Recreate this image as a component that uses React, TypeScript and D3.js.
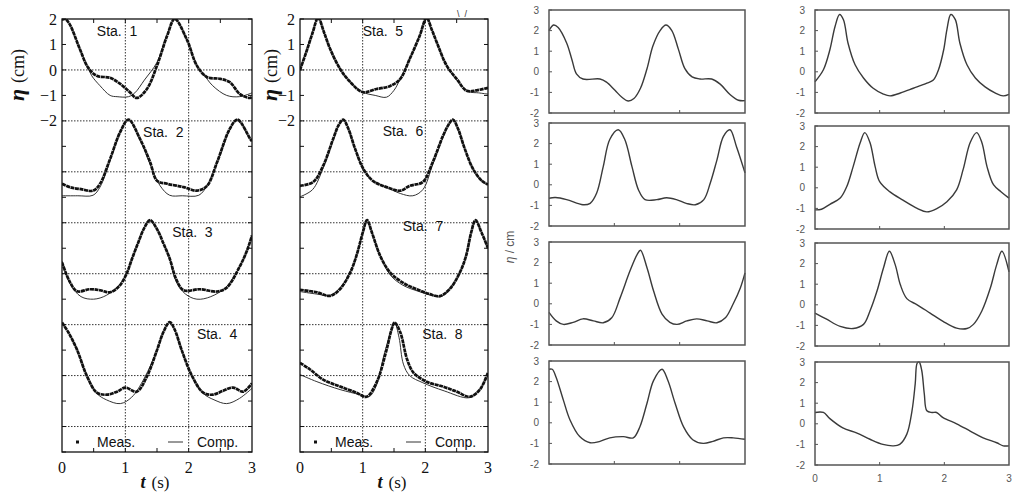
import React, { useRef, useEffect } from 'react';
import * as d3 from 'd3';

type Pt = [number, number];

// ---- left figure: measured (dots) vs computed (line), t in s, eta in cm relative to station baseline
const sta1Meas: Pt[] = [[0, 1.97], [0.05, 2.0], [0.12, 1.8], [0.28, 0.83], [0.41, 0.1], [0.55, -0.23], [0.76, -0.31], [0.92, -0.55], [1.07, -0.87], [1.18, -1.1], [1.34, -0.75], [1.5, 0.17], [1.66, 1.34], [1.78, 2.0], [1.97, 1.2], [2.13, 0.17], [2.29, -0.28], [2.5, -0.35], [2.65, -0.48], [2.81, -0.95], [2.97, -1.1], [3, -1.05]];
const sta1Comp: Pt[] = [[0, 1.95], [0.05, 2.0], [0.12, 1.8], [0.28, 0.83], [0.4, 0.15], [0.47, -0.23], [0.6, -0.62], [0.76, -1.0], [0.87, -1.05], [1.05, -1.05], [1.15, -0.9], [1.3, -0.4], [1.5, 0.3], [1.66, 1.4], [1.78, 2.0], [1.97, 1.2], [2.13, 0.17], [2.23, -0.15], [2.38, -0.62], [2.6, -1.0], [2.8, -1.05], [3, -0.9]];
const sta2Meas: Pt[] = [[0, -0.47], [0.15, -0.62], [0.3, -0.68], [0.49, -0.74], [0.6, -0.47], [0.76, 0.51], [0.92, 1.57], [1.05, 2.05], [1.23, 1.3], [1.39, 0.39], [1.5, -0.35], [1.66, -0.47], [1.92, -0.6], [2.13, -0.74], [2.29, -0.55], [2.45, 0.39], [2.65, 1.69], [2.77, 2.05], [2.97, 1.3], [3, 1.2]];
const sta2Comp: Pt[] = [[0, -0.94], [0.25, -0.94], [0.49, -0.92], [0.6, -0.6], [0.76, 0.45], [0.92, 1.55], [1.05, 2.05], [1.23, 1.3], [1.39, 0.3], [1.55, -0.55], [1.7, -0.92], [1.9, -0.94], [2.16, -0.92], [2.3, -0.5], [2.45, 0.35], [2.65, 1.65], [2.77, 2.05], [2.97, 1.3], [3, 1.2]];
const sta3Meas: Pt[] = [[0, 0.44], [0.13, -0.35], [0.24, -0.69], [0.44, -0.61], [0.6, -0.65], [0.76, -0.73], [0.9, -0.5], [1.02, 0], [1.1, 0.55], [1.2, 1.2], [1.3, 1.8], [1.39, 2.1], [1.5, 1.75], [1.6, 1.2], [1.7, 0.6], [1.8, -0.2], [1.92, -0.65], [2.18, -0.61], [2.45, -0.7], [2.6, -0.55], [2.81, 0.3], [2.92, 0.9], [3, 1.5]];
const sta3Comp: Pt[] = [[0, 0.5], [0.13, -0.4], [0.3, -0.9], [0.5, -1.0], [0.7, -0.85], [0.9, -0.45], [1.02, 0], [1.1, 0.55], [1.2, 1.2], [1.3, 1.8], [1.39, 2.1], [1.5, 1.75], [1.6, 1.2], [1.7, 0.6], [1.8, -0.3], [1.95, -0.8], [2.13, -1.0], [2.35, -0.9], [2.6, -0.5], [2.81, 0.3], [2.92, 0.9], [3, 1.5]];
const sta4Meas: Pt[] = [[0, 2.08], [0.1, 1.7], [0.24, 1.0], [0.39, 0], [0.55, -0.67], [0.71, -0.75], [0.87, -0.63], [1.0, -0.47], [1.18, -0.63], [1.34, -0.04], [1.5, 1.0], [1.6, 1.7], [1.7, 2.1], [1.78, 1.8], [1.89, 1.0], [2.05, 0], [2.23, -0.67], [2.38, -0.75], [2.54, -0.6], [2.7, -0.47], [2.86, -0.63], [3, -0.3]];
const sta4Comp: Pt[] = [[0, 2.08], [0.1, 1.7], [0.24, 1.0], [0.39, 0], [0.55, -0.7], [0.7, -0.95], [0.92, -1.1], [1.1, -0.85], [1.3, -0.1], [1.5, 1.0], [1.6, 1.7], [1.7, 2.1], [1.78, 1.8], [1.89, 1.0], [2.05, 0], [2.23, -0.7], [2.4, -0.95], [2.6, -1.1], [2.8, -0.9], [3, -0.5]];

const sta5Meas: Pt[] = [[0, 0], [0.1, 0.7], [0.2, 1.45], [0.29, 2.05], [0.38, 1.5], [0.48, 0.83], [0.64, 0.04], [0.8, -0.47], [1.0, -0.87], [1.22, -0.75], [1.44, -0.63], [1.6, -0.35], [1.75, 0.43], [1.91, 1.34], [2.02, 2.05], [2.1, 1.6], [2.18, 1.1], [2.34, 0.17], [2.5, -0.35], [2.66, -0.82], [2.82, -0.8], [3, -0.7]];
const sta5Comp: Pt[] = [[0, 0], [0.1, 0.75], [0.2, 1.5], [0.29, 2.05], [0.38, 1.5], [0.48, 0.83], [0.64, 0.04], [0.8, -0.47], [1.0, -0.87], [1.2, -1.0], [1.38, -1.07], [1.5, -0.8], [1.6, -0.35], [1.75, 0.43], [1.91, 1.34], [2.02, 2.05], [2.1, 1.6], [2.18, 1.1], [2.34, 0.17], [2.5, -0.4], [2.7, -0.85], [2.85, -0.9], [3, -0.95]];
const sta6Meas: Pt[] = [[0, -0.55], [0.21, -0.4], [0.37, 0.24], [0.53, 1.3], [0.62, 1.85], [0.69, 2.05], [0.77, 1.7], [0.88, 0.9], [1.01, 0.12], [1.16, -0.35], [1.38, -0.6], [1.6, -0.74], [1.75, -0.55], [1.96, -0.4], [2.12, 0.39], [2.28, 1.4], [2.37, 1.85], [2.44, 2.05], [2.52, 1.7], [2.63, 0.9], [2.76, 0.12], [2.9, -0.35], [3, -0.5]];
const sta6Comp: Pt[] = [[0, -0.98], [0.2, -0.7], [0.37, 0.15], [0.53, 1.25], [0.62, 1.85], [0.69, 2.05], [0.77, 1.7], [0.88, 0.9], [1.01, 0.12], [1.16, -0.35], [1.38, -0.6], [1.6, -0.85], [1.8, -0.94], [1.96, -0.7], [2.12, 0.3], [2.28, 1.35], [2.37, 1.85], [2.44, 2.05], [2.52, 1.7], [2.63, 0.9], [2.76, 0.12], [2.9, -0.35], [3, -0.5]];
const sta7Meas: Pt[] = [[0, -0.63], [0.27, -0.73], [0.48, -0.87], [0.64, -0.6], [0.8, 0.04], [0.9, 0.7], [1.0, 1.6], [1.07, 2.1], [1.15, 1.6], [1.28, 0.7], [1.44, 0.04], [1.64, -0.35], [1.86, -0.61], [2.07, -0.8], [2.23, -0.88], [2.39, -0.6], [2.55, 0.04], [2.65, 0.7], [2.73, 1.6], [2.8, 2.1], [2.9, 1.6], [3, 1.0]];
const sta7Comp: Pt[] = [[0, -0.7], [0.27, -0.8], [0.48, -0.85], [0.64, -0.55], [0.8, 0.04], [0.9, 0.7], [1.0, 1.6], [1.07, 2.1], [1.15, 1.6], [1.28, 0.7], [1.44, -0.05], [1.64, -0.45], [1.9, -0.7], [2.1, -0.85], [2.25, -0.9], [2.4, -0.55], [2.55, 0.04], [2.65, 0.7], [2.73, 1.6], [2.8, 2.1], [2.9, 1.6], [3, 1.0]];
const sta8Meas: Pt[] = [[0, 0.5], [0.16, 0.24], [0.37, -0.16], [0.64, -0.43], [0.9, -0.67], [1.06, -0.83], [1.22, -0.28], [1.38, 1.0], [1.46, 1.8], [1.51, 2.08], [1.6, 1.7], [1.71, 0.63], [1.81, 0.12], [2.02, -0.24], [2.28, -0.43], [2.5, -0.63], [2.71, -0.83], [2.87, -0.55], [3, 0.12]];
const sta8Comp: Pt[] = [[0, 0.04], [0.27, -0.24], [0.64, -0.55], [0.96, -0.75], [1.1, -0.83], [1.2, -0.5], [1.35, 0.9], [1.46, 1.8], [1.51, 2.08], [1.58, 1.5], [1.65, 0.45], [1.75, 0.0], [1.96, -0.28], [2.3, -0.6], [2.7, -0.87], [2.85, -0.6], [3, 0]];

const stationNames = ['Sta.  1', 'Sta.  2', 'Sta.  3', 'Sta.  4', 'Sta.  5', 'Sta.  6', 'Sta.  7', 'Sta.  8'];
const stationOffsets = [0, -4, -8, -12];
const etaTickLabels = [2, 1, 0, -1, -2];
const timeTicks = [0, 1, 2, 3];

// ---- right figure: simulated eta (cm) for the same stations
const simA1: Pt[] = [[0, 2.0], [0.07, 2.27], [0.14, 2.15], [0.27, 1.4], [0.35, 0.6], [0.42, -0.1], [0.52, -0.35], [0.78, -0.35], [0.88, -0.5], [1.01, -0.9], [1.12, -1.25], [1.21, -1.42], [1.3, -1.3], [1.4, -0.8], [1.5, 0.15], [1.59, 1.25], [1.7, 2.0], [1.79, 2.27], [1.88, 2.0], [1.98, 1.1], [2.08, 0.15], [2.19, -0.25], [2.31, -0.35], [2.49, -0.35], [2.62, -0.6], [2.77, -1.1], [2.9, -1.38], [3, -1.4]];
const simA2: Pt[] = [[0, -0.65], [0.1, -0.62], [0.27, -0.72], [0.52, -0.97], [0.63, -0.9], [0.73, -0.4], [0.83, 0.88], [0.93, 2.2], [1.06, 2.67], [1.16, 2.2], [1.27, 0.88], [1.37, -0.25], [1.47, -0.72], [1.65, -0.72], [1.8, -0.63], [1.95, -0.72], [2.1, -0.9], [2.24, -0.97], [2.37, -0.72], [2.47, 0.1], [2.57, 1.2], [2.67, 2.35], [2.77, 2.67], [2.87, 1.85], [3, 0.58]];
const simA3: Pt[] = [[0, -0.42], [0.11, -0.83], [0.22, -1.0], [0.37, -0.9], [0.52, -0.73], [0.68, -0.83], [0.83, -0.92], [0.96, -0.68], [1.09, 0.3], [1.24, 1.6], [1.35, 2.4], [1.4, 2.6], [1.5, 1.75], [1.6, 0.63], [1.73, -0.5], [1.85, -0.9], [1.96, -1.0], [2.11, -0.83], [2.26, -0.73], [2.42, -0.83], [2.57, -0.92], [2.7, -0.68], [2.82, 0], [2.93, 0.78], [3, 1.5]];
const simA4: Pt[] = [[0, 2.6], [0.05, 2.6], [0.11, 2.2], [0.22, 1.1], [0.32, 0.15], [0.47, -0.67], [0.63, -0.97], [0.78, -0.9], [0.93, -0.73], [1.14, -0.67], [1.29, -0.73], [1.39, -0.2], [1.5, 0.95], [1.6, 2.05], [1.73, 2.6], [1.82, 2.05], [1.93, 0.95], [2.06, -0.2], [2.2, -0.82], [2.36, -1.0], [2.51, -0.9], [2.67, -0.73], [2.82, -0.73], [3, -0.8]];
const simB1: Pt[] = [[0, -0.48], [0.13, 0.1], [0.23, 1.07], [0.31, 2.2], [0.38, 2.78], [0.44, 2.53], [0.51, 1.4], [0.62, 0.34], [0.75, -0.3], [0.9, -0.8], [1.05, -1.07], [1.16, -1.17], [1.32, -1.03], [1.52, -0.8], [1.73, -0.55], [1.83, -0.4], [1.91, 0.1], [1.99, 1.07], [2.04, 2.05], [2.1, 2.78], [2.17, 2.53], [2.24, 1.4], [2.35, 0.34], [2.48, -0.3], [2.63, -0.73], [2.79, -1.03], [2.91, -1.17], [3, -1.1]];
const simB2: Pt[] = [[0, -1.07], [0.1, -1.04], [0.23, -0.8], [0.39, -0.5], [0.49, 0.05], [0.59, 1.03], [0.7, 2.2], [0.77, 2.68], [0.85, 2.2], [0.93, 1.03], [1.0, 0.3], [1.16, -0.2], [1.36, -0.6], [1.58, -1.0], [1.73, -1.17], [1.89, -1.0], [2.04, -0.68], [2.19, -0.1], [2.29, 0.88], [2.4, 2.2], [2.5, 2.68], [2.58, 2.2], [2.66, 1.03], [2.76, 0.15], [2.88, -0.2], [3, -0.5]];
const simB3: Pt[] = [[0, -0.4], [0.18, -0.7], [0.39, -1.05], [0.59, -1.15], [0.75, -0.95], [0.85, -0.3], [0.96, 0.68], [1.06, 1.8], [1.15, 2.6], [1.24, 1.95], [1.32, 0.97], [1.42, 0.3], [1.58, 0], [1.78, -0.4], [1.98, -0.8], [2.19, -1.13], [2.35, -1.15], [2.45, -0.95], [2.58, -0.3], [2.71, 0.8], [2.81, 1.95], [2.89, 2.6], [3, 1.6]];
const simB4: Pt[] = [[0, 0.55], [0.13, 0.55], [0.23, 0.25], [0.43, -0.2], [0.65, -0.45], [0.85, -0.75], [1.05, -1.0], [1.21, -1.07], [1.31, -1.0], [1.42, -0.5], [1.5, 0.63], [1.55, 1.95], [1.58, 2.95], [1.61, 3.0], [1.65, 2.6], [1.69, 1.46], [1.73, 0.63], [1.81, 0.55], [1.88, 0.55], [1.98, 0.3], [2.19, 0], [2.4, -0.35], [2.6, -0.68], [2.81, -0.92], [2.91, -1.07], [3, -1.07]];
const simTickLabels = ['3', '2', '1', '0', '-1', '-2'];

const W = 1029;
const H = 499;

export default function App() {
  const svgRef = useRef<SVGSVGElement>(null);

  useEffect(() => {
    if (!svgRef.current) return;
    const svg = d3.select(svgRef.current);
    svg.selectAll('*').remove();
    const defs = svg.append('defs');

    const serif = '"Liberation Serif", "DejaVu Serif", serif';
    const sans = '"Liberation Sans", Arial, sans-serif';

    // ---------- stacked measured/computed panels ----------
    const drawStacked = (
      id: string, x0: number, x1: number, yTitleX: number,
      meas: Pt[][], comp: Pt[][], names: string[], labelAt: Pt[]
    ) => {
      const top = 19, bottom = 452;
      const x = d3.scaleLinear().domain([0, 3]).range([x0, x1]);
      const y = d3.scaleLinear().domain([-15, 2]).range([bottom, top]);
      const g = svg.append('g');

      defs.append('clipPath').attr('id', id)
        .append('rect').attr('x', x0).attr('y', top).attr('width', x1 - x0).attr('height', bottom - top);

      // dotted grid
      const grid = g.append('g').attr('stroke', '#333').attr('stroke-width', 1).attr('stroke-dasharray', '1.5,1.5');
      d3.range(0, -15, -2).forEach(v => {
        grid.append('line').attr('x1', x0).attr('x2', x1).attr('y1', y(v)).attr('y2', y(v));
      });
      [1, 2].forEach(t => {
        grid.append('line').attr('x1', x(t)).attr('x2', x(t)).attr('y1', top).attr('y2', bottom);
      });

      // minor ticks
      const ticks = g.append('g').attr('stroke', '#111').attr('stroke-width', 1);
      d3.range(-15, 3).forEach(v => {
        ticks.append('line').attr('x1', x0).attr('x2', x0 + 4).attr('y1', y(v)).attr('y2', y(v));
        ticks.append('line').attr('x1', x1 - 4).attr('x2', x1).attr('y1', y(v)).attr('y2', y(v));
      });
      d3.range(0.5, 3, 0.5).forEach(t => {
        ticks.append('line').attr('x1', x(t)).attr('x2', x(t)).attr('y1', bottom).attr('y2', bottom - 4);
        ticks.append('line').attr('x1', x(t)).attr('x2', x(t)).attr('y1', top).attr('y2', top + 4);
      });

      const curves = g.append('g').attr('clip-path', `url(#${id})`);
      stationOffsets.forEach((off, i) => {
        const line = d3.line<Pt>()
          .x(d => x(d[0]))
          .y(d => y(d[1] + off))
          .curve(d3.curveCatmullRom.alpha(0.5));
        curves.append('path').attr('d', line(comp[i]))
          .attr('fill', 'none').attr('stroke', '#333').attr('stroke-width', 1);
        curves.append('path').attr('d', line(meas[i]))
          .attr('fill', 'none').attr('stroke', '#111').attr('stroke-width', 2.7)
          .attr('stroke-dasharray', '4,0.6');
        g.append('text')
          .attr('x', x(labelAt[i][0])).attr('y', y(labelAt[i][1] + off))
          .style('white-space', 'pre')
          .attr('font-family', sans).attr('font-size', 14).attr('fill', '#111')
          .text(names[i]);
      });

      g.append('rect').attr('x', x0).attr('y', top).attr('width', x1 - x0).attr('height', bottom - top)
        .attr('fill', 'none').attr('stroke', '#111').attr('stroke-width', 1.3);

      // eta tick labels
      etaTickLabels.forEach(v => {
        g.append('text').attr('x', x0 - 5).attr('y', y(v)).attr('dy', '0.35em')
          .attr('text-anchor', 'end').attr('font-family', serif).attr('font-size', 16).attr('fill', '#111')
          .text(v < 0 ? `\u2212${-v}` : `${v}`);
      });
      timeTicks.forEach(t => {
        g.append('text').attr('x', x(t)).attr('y', 473).attr('text-anchor', 'middle')
          .attr('font-family', serif).attr('font-size', 16).attr('fill', '#111').text(t);
      });

      // axis titles
      const yl = g.append('text').attr('transform', `translate(${yTitleX},${75}) rotate(-90)`)
        .attr('text-anchor', 'middle').attr('font-family', serif).attr('fill', '#111');
      yl.append('tspan').attr('font-style', 'italic').attr('font-weight', 'bold').attr('font-size', 22).text('\u03b7');
      yl.append('tspan').attr('font-size', 18).attr('dx', 6).text('(cm)');
      const xl = g.append('text').attr('x', (x0 + x1) / 2 - 2).attr('y', 488)
        .attr('text-anchor', 'middle').attr('font-family', serif).attr('fill', '#111');
      xl.append('tspan').attr('font-style', 'italic').attr('font-weight', 'bold').attr('font-size', 18).text('t');
      xl.append('tspan').attr('font-size', 17).attr('dx', 6).text('(s)');

      // legend
      const ly = 442;
      g.append('rect').attr('x', x0 + 14).attr('y', ly - 1.5).attr('width', 3).attr('height', 3).attr('fill', '#111');
      g.append('text').attr('x', x0 + 35).attr('y', ly + 5).attr('font-family', sans).attr('font-size', 14).attr('fill', '#111').text('Meas.');
      g.append('line').attr('x1', x0 + 106).attr('x2', x0 + 121).attr('y1', ly).attr('y2', ly).attr('stroke', '#333').attr('stroke-width', 1);
      g.append('text').attr('x', x0 + 135).attr('y', ly + 5).attr('font-family', sans).attr('font-size', 14).attr('fill', '#111').text('Comp.');
    };

    drawStacked('clipA', 62, 252, 24,
      [sta1Meas, sta2Meas, sta3Meas, sta4Meas], [sta1Comp, sta2Comp, sta3Comp, sta4Comp],
      stationNames.slice(0, 4), [[0.55, 1.34], [1.28, 1.38], [1.74, 1.43], [2.13, 1.42]]);
    drawStacked('clipB', 300, 488, 277,
      [sta5Meas, sta6Meas, sta7Meas, sta8Meas], [sta5Comp, sta6Comp, sta7Comp, sta8Comp],
      stationNames.slice(4), [[1.0, 1.34], [1.32, 1.42], [1.64, 1.66], [1.95, 1.42]]);

    // stray mark at the clipped top edge
    svg.append('text').attr('x', 457).attr('y', 17).style('white-space', 'pre')
      .attr('font-family', sans).attr('font-size', 9).attr('fill', '#333').text('\\  /');

    // ---------- small simulation panels ----------
    const drawSmall = (x0: number, x1: number, tops: number[], series: Pt[][], xLabels: boolean) => {
      const h = 103;
      const x = d3.scaleLinear().domain([0, 3]).range([x0, x1]);
      series.forEach((data, i) => {
        const top = tops[i];
        const y = d3.scaleLinear().domain([-2, 3]).range([top + h, top]);
        const g = svg.append('g');
        const line = d3.line<Pt>().x(d => x(d[0])).y(d => y(d[1])).curve(d3.curveCatmullRom.alpha(0.5));
        g.append('path').attr('d', line(data)).attr('fill', 'none')
          .attr('stroke', '#3a3a3a').attr('stroke-width', 1.4);
        d3.range(-2, 4).forEach(v => {
          g.append('line').attr('x1', x0).attr('x2', x0 + 3).attr('y1', y(v)).attr('y2', y(v))
            .attr('stroke', '#555').attr('stroke-width', 1);
        });
        [1, 2].forEach(t => {
          g.append('line').attr('x1', x(t)).attr('x2', x(t)).attr('y1', top + h).attr('y2', top + h - 3)
            .attr('stroke', '#555').attr('stroke-width', 1);
        });
        g.append('rect').attr('x', x0).attr('y', top).attr('width', x1 - x0).attr('height', h)
          .attr('fill', 'none').attr('stroke', '#555').attr('stroke-width', 1.5);
        simTickLabels.forEach(s => {
          g.append('text').attr('x', x0 - 10).attr('y', y(+s)).attr('dy', '0.35em')
            .attr('text-anchor', 'end').attr('font-family', sans).attr('font-size', 10).attr('fill', '#555')
            .text(s);
        });
      });
      if (xLabels) {
        timeTicks.forEach(t => {
          svg.append('text').attr('x', x(t)).attr('y', 482).attr('text-anchor', 'middle')
            .attr('font-family', sans).attr('font-size', 10).attr('fill', '#555').text(t);
        });
      }
    };

    drawSmall(549, 745, [10, 123, 242, 361], [simA1, simA2, simA3, simA4], false);
    drawSmall(815, 1009, [10, 126, 243, 362], [simB1, simB2, simB3, simB4], true);

    const el = svg.append('text').attr('transform', 'translate(514,247) rotate(-90)')
      .attr('text-anchor', 'middle').attr('font-family', sans).attr('font-size', 12).attr('fill', '#555');
    el.append('tspan').attr('font-style', 'italic').text('\u03b7');
    el.append('tspan').text(' / cm');
  }, []);

  return (
    <svg
      ref={svgRef}
      width={W}
      height={H}
      style={{ position: 'absolute', left: 0, top: 0, background: '#fff' }}
    />
  );
}
